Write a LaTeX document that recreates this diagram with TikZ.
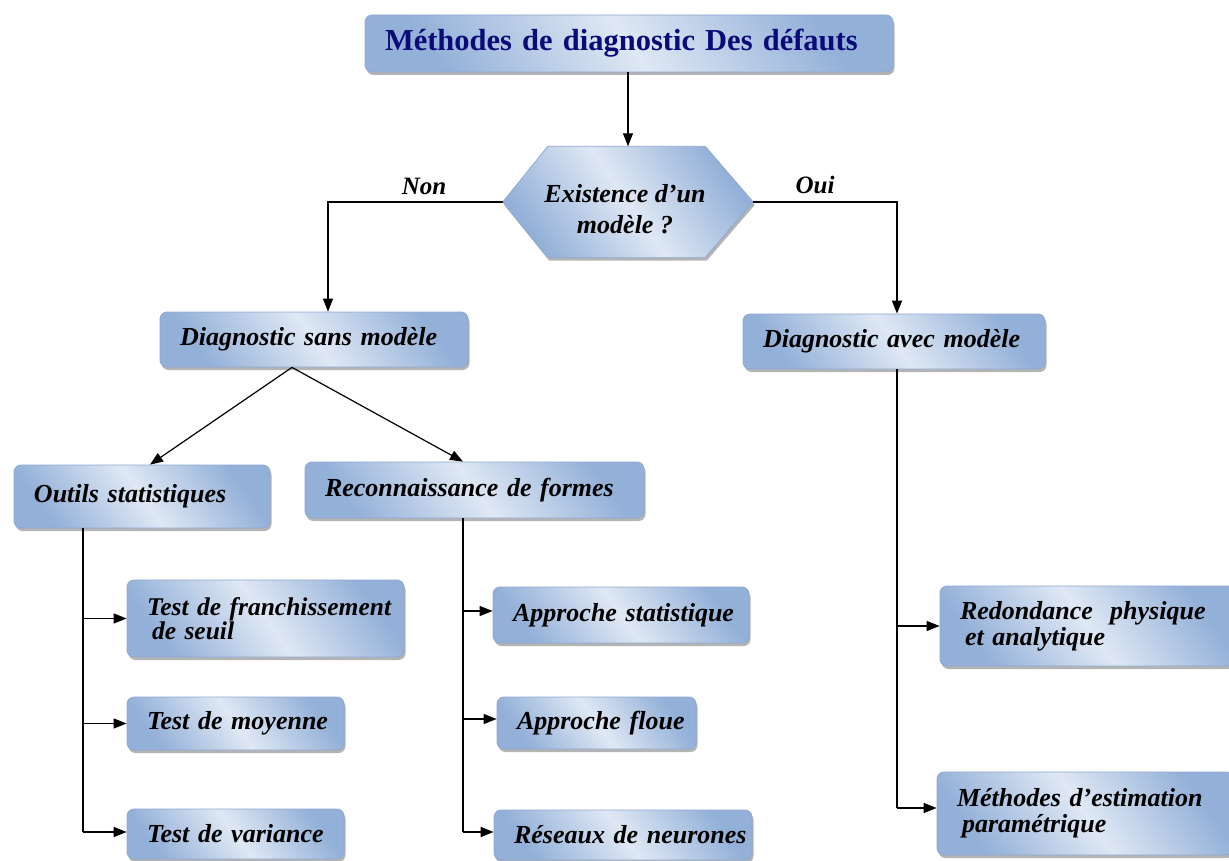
\documentclass[tikz,border=0pt]{standalone}
\usepackage{fontspec}
\setmainfont{Liberation Serif}
\usetikzlibrary{arrows.meta,shadows,backgrounds,calc}

\definecolor{boxdark}{HTML}{93B0D8}
\definecolor{boxlight}{HTML}{DFE8F4}
\definecolor{boxedge}{HTML}{8EA8CF}
\definecolor{titleblue}{HTML}{0A0A78}

\tikzset{
  boxfill/.style={draw=boxedge, line width=0.8pt,
    top color=boxdark, bottom color=boxdark, middle color=boxlight,
    shading angle=-55,
    drop shadow={opacity=0.45, shadow xshift=1.5pt, shadow yshift=-3pt, fill=gray!70!black}},
  box/.style={boxfill, rounded corners=7pt, align=left,
    inner xsep=20pt, inner ysep=0pt,
    font=\bfseries\itshape\fontsize{26}{26}\selectfont},
  arr/.style={line width=1.2pt, -{Triangle[length=13pt,width=10pt]}},
  lnk/.style={line width=1.2pt},
  yesno/.style={font=\bfseries\itshape\fontsize{25}{25}\selectfont, inner sep=0pt},
}

\begin{document}
\begin{tikzpicture}[x=1pt,y=-1pt]
\useasboundingbox (0,0) rectangle (1229,861);
\begin{scope}[on background layer]
  \fill[white] (0,0) rectangle (1229,861);
\end{scope}

% main title
\node[box, font=\bfseries\fontsize{30.5}{30.5}\selectfont, text=titleblue,
      text width=488pt, minimum height=57pt] (title) at (629,43.5)
  {\mbox{Méthodes de diagnostic Des défauts}};

% decision hexagon: outline node and its question
\node[minimum width=250pt, minimum height=111pt, inner sep=0pt] (hex) at (628,202) {};
\begin{scope}[on background layer]
  \shade[boxfill] (hex.west) -- ([xshift=45pt]hex.north west) -- ([xshift=-48pt]hex.north east)
    -- (hex.east) -- ([xshift=-48pt]hex.south east) -- ([xshift=45pt]hex.south west) -- cycle;
\end{scope}
\node[font=\bfseries\itshape\fontsize{26}{31}\selectfont, align=center] (question) at (625,209)
  {Existence d’un\\modèle ?};

% second level
\node[box, text width=268pt, minimum height=55pt] (dsm) at (314,339.5) {\mbox{Diagnostic sans modèle}};
\node[box, text width=262pt, minimum height=55pt] (dam) at (894,341.5) {\mbox{Diagnostic avec modèle}};

% third level
\node[box, text width=216pt, minimum height=63pt] (outils) at (142,496.5) {\mbox{Outils statistiques}};
\node[box, text width=299pt, minimum height=56pt] (reco) at (474.5,490) {\mbox{Reconnaissance de formes}};

% statistical tools
\node[box, text width=237pt, minimum height=77pt,
      font=\bfseries\itshape\fontsize{25.5}{22}\selectfont] (tfs) at (265.5,618.5)
  {\mbox{Test de franchissement}\\\mbox{\hspace*{5pt}de seuil}};
\node[box, text width=177pt, minimum height=53pt] (tdm) at (235.5,723.5) {\mbox{Test de moyenne}};
\node[box, text width=177pt, minimum height=50pt] (tdv) at (235.5,834) {\mbox{Test de variance}};

% pattern recognition
\node[box, text width=216pt, minimum height=56pt] (aps) at (621,615) {\mbox{Approche statistique}};
\node[box, text width=159pt, minimum height=52pt] (apf) at (596.5,723) {\mbox{Approche floue}};
\node[box, text width=218pt, minimum height=50pt] (rdn) at (623,835) {\mbox{Réseaux de neurones}};

% model based
\node[box, text width=256pt, minimum height=80pt] (red) at (1088,626)
  {\mbox{Redondance\ \ physique}\\\mbox{\hspace*{5pt}et analytique}};
\node[box, text width=256pt, minimum height=83pt] (mep) at (1085,813.5)
  {\mbox{Méthodes d’estimation}\\\mbox{\hspace*{5pt}paramétrique}};

% connectors
\draw[arr] (title.south -| hex.north) -- (hex.north);
\draw[arr] (hex.west) -| ([xshift=14pt]dsm.north)
  node[yesno, pos=0.225, above=7pt] (non) {Non};
\draw[arr, line width=1.8pt] (hex.east) -| ([xshift=3pt]dam.north)
  node[yesno, pos=0.215, above=7pt] (oui) {Oui};

\draw[arr] ([xshift=-22pt]dsm.south) -- ([xshift=8pt]outils.north);
\draw[arr] ([xshift=-22pt]dsm.south) -- ([xshift=-11.5pt]reco.north);

\coordinate (os) at ([xshift=-59pt]outils.south);
\draw[lnk] (os) -- ([yshift=2pt]tdv.west -| os);
\draw[arr] (os |- tfs.west) -- (tfs.west);
\draw[arr] (os |- tdm.west) -- (tdm.west);
\draw[arr] ([yshift=2pt]tdv.west -| os) -- ([yshift=2pt]tdv.west);

\coordinate (rs) at ([xshift=-11.5pt]reco.south);
\draw[lnk] (rs) -- ([yshift=3pt]rdn.west -| rs);
\draw[arr] ([yshift=4pt]aps.west -| rs) -- ([yshift=4pt]aps.west);
\draw[arr] ([yshift=4pt]apf.west -| rs) -- ([yshift=4pt]apf.west);
\draw[arr] ([yshift=3pt]rdn.west -| rs) -- ([yshift=3pt]rdn.west);

\coordinate (ms) at ([xshift=3pt]dam.south);
\draw[lnk] (ms) -- ([yshift=5.5pt]mep.west -| ms);
\draw[arr] (red.west -| ms) -- (red.west);
\draw[arr] ([yshift=5.5pt]mep.west -| ms) -- ([yshift=5.5pt]mep.west);
\end{tikzpicture}
\end{document}
